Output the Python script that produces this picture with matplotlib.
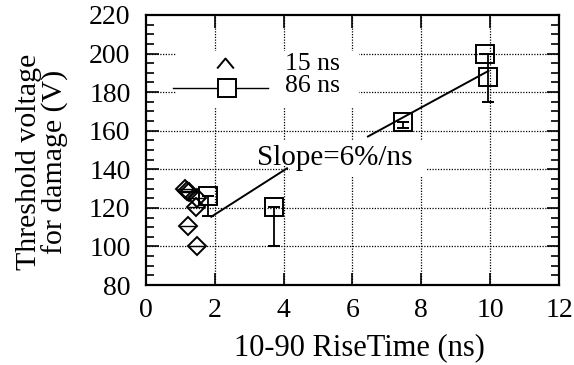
import numpy as np
import matplotlib
matplotlib.use('Agg')
from matplotlib import pyplot as plt
from matplotlib.patches import Rectangle

plt.rcParams['font.family'] = ['Liberation Serif', 'DejaVu Serif']

# 15 ns pulses (diamonds)
d_x = [1.15, 1.2, 1.25, 1.5, 1.47, 1.23, 1.49]
d_y = [130, 129, 128, 125, 120.5, 110.5, 100.4]

# 86 ns pulses (squares) with lower / upper error
s_x = [1.81, 3.72, 7.48, 9.86, 9.95]
s_y = [126, 120.6, 164.6, 200, 188]
s_lo = [10, 20.6, 3, 0, 13]
s_hi = [0, 0, 0, 0, 12]

# fit line (broken by label)
fit1_x = [1.9, 4.1]
fit1_y = [115.4, 140.5]
fit2_x = [6.45, 9.95]
fit2_y = [157, 191]

fig = plt.figure(figsize=(5.74, 3.65), dpi=100)
ax = fig.add_axes([0.254, 0.219, 0.974 - 0.254, 0.959 - 0.219])

ax.set_xlim(0, 12)
ax.set_ylim(80, 220)
ax.set_xticks(np.arange(0, 13, 2))
ax.set_yticks(np.arange(80, 221, 20))
ax.set_yticks(np.arange(80, 221, 5), minor=True)

for x in range(2, 12, 2):
    ax.axvline(x, color='black', lw=0.9, ls=(0, (1, 1.2)), zorder=1)
for y in range(100, 220, 20):
    ax.axhline(y, color='black', lw=0.9, ls=(0, (1, 1.2)), zorder=1)

# white areas behind legend and label
ax.add_patch(Rectangle((0.89, 172.5), 6.2 - 0.89, 201.5 - 172.5, fc='white', ec='none', zorder=2))
ax.add_patch(Rectangle((2.8, 141.5), 8.16 - 2.8, 13.5, fc='white', ec='none', zorder=2))
ax.add_patch(Rectangle((4.2, 136), 8.16 - 4.2, 6, fc='white', ec='none', zorder=2))

ax.plot(fit1_x, fit1_y, color='black', lw=1.4, zorder=3)
ax.plot(fit2_x, fit2_y, color='black', lw=1.4, zorder=3)

ax.errorbar(s_x, s_y, yerr=[s_lo, s_hi], fmt='s', mfc='none', mec='black', mew=1.4,
            ms=13, ecolor='black', elinewidth=1.3, capsize=4, capthick=1.3, zorder=4)
ax.plot(d_x, d_y, 'D', mfc='none', mec='black', mew=1.4, ms=9.5, zorder=4)
ax.plot(d_x, d_y, '_', color='black', mew=1, ms=12, zorder=4)

# legend drawn by hand
caret = [(-1, -0.6), (0, 0.6), (1, -0.6)]
ax.plot([0.79, 3.55], [181.9, 181.9], color='black', lw=1, zorder=3)
ax.plot([2.36], [181.9], 's', mfc='white', mec='black', mew=1.4, ms=13, zorder=4)
ax.plot([2.3], [195], marker=caret, ms=12, mfc='none', mec='black', mew=1.4, ls='none', zorder=4)
ax.text(4.05, 194.6, '15 ns', ha='left', va='center', fontsize=18.5, zorder=4)
ax.text(4.05, 183.4, '86 ns', ha='left', va='center', fontsize=18.5, zorder=4)

ax.text(5.5, 146, 'Slope=6%/ns', ha='center', va='center', fontsize=21, zorder=4)

ax.tick_params(which='both', direction='in', top=True, right=True, width=1.2)
ax.tick_params(which='major', length=9, labelsize=20)
ax.tick_params(axis='x', which='major', pad=9)
ax.tick_params(axis='y', which='major', pad=11)
ax.tick_params(which='minor', length=6)
ax.tick_params(axis='x', which='minor', bottom=False, top=False)
for sp in ax.spines.values():
    sp.set_linewidth(1.6)

ax.set_xlabel('10-90 RiseTime (ns)', fontsize=22)
ax.xaxis.set_label_coords(0.516, -0.18)
ax.set_ylabel('Threshold voltage\nfor damage (V)', fontsize=21.5, linespacing=1.0)
ax.yaxis.set_label_coords(-0.25, 0.457)
ax.yaxis.label.set_va('center')

fig.savefig('out.png', dpi=100)
